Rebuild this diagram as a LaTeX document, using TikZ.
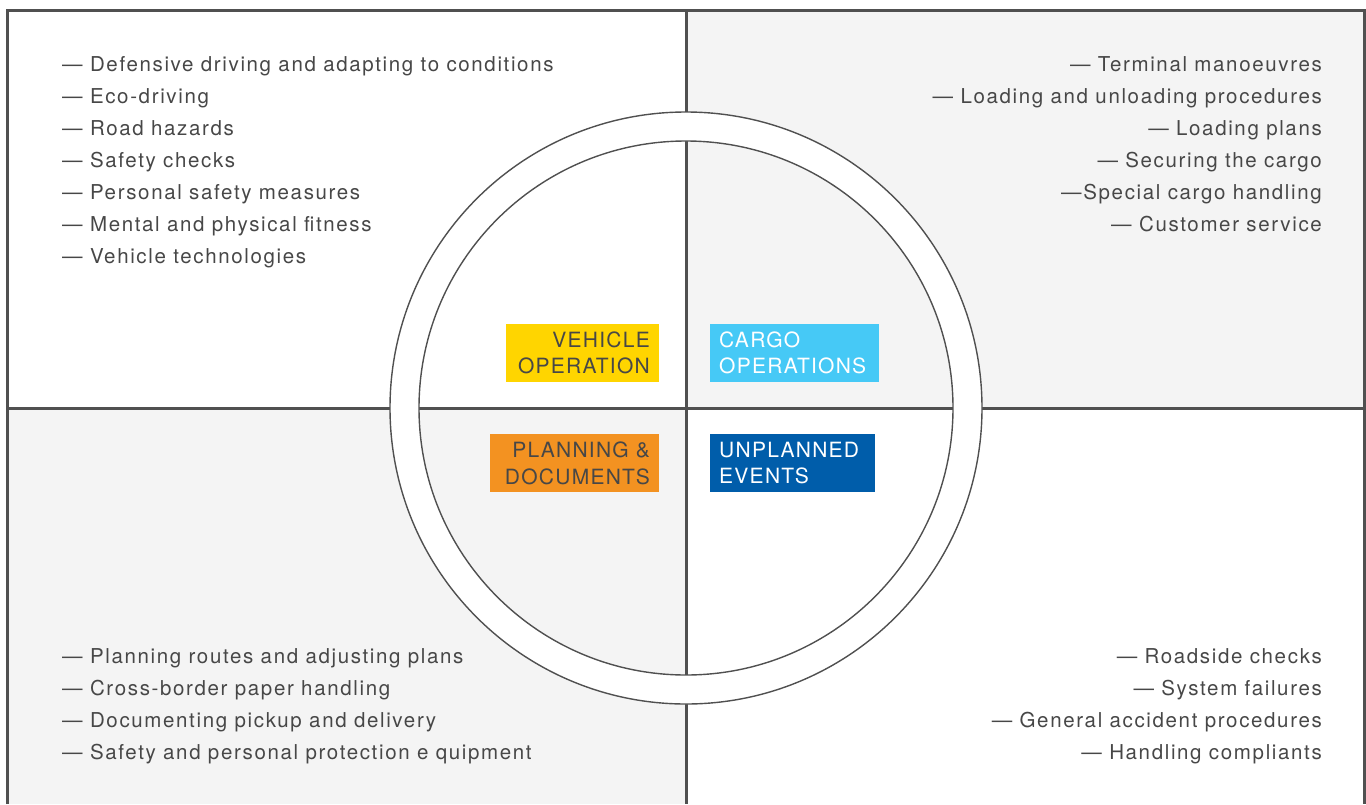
\documentclass[tikz,border=0pt]{standalone}
\usepackage{fontspec}
\setmainfont{TeX Gyre Heros}[LetterSpace=6]
\newfontfamily\listfont{TeX Gyre Heros}[LetterSpace=8]
\usetikzlibrary{positioning}
\definecolor{linegray}{HTML}{505050}
\definecolor{panegray}{HTML}{F4F4F4}
\definecolor{textgray}{HTML}{474747}
\definecolor{vehyellow}{HTML}{FFD500}
\definecolor{planorange}{HTML}{F39221}
\definecolor{cargoblue}{HTML}{46C9F6}
\definecolor{eventblue}{HTML}{005DAA}
\tikzset{
  item/.style={font=\listfont\fontsize{20.5}{32}\selectfont, text=textgray, inner sep=0pt},
  tag/.style={font=\fontsize{21}{26.5}\selectfont, inner xsep=9pt, inner ysep=0pt, minimum height=58pt},
  divider/.style={draw=linegray, line width=3pt},
  ringline/.style={draw=linegray, line width=1.4pt}
}
\begin{document}
\begin{tikzpicture}[x=1pt, y=-1pt]
  \useasboundingbox (0,0) rectangle (1366,804);
  \coordinate (c) at (686,408);
  % grey panes
  \fill[panegray] (686,10) rectangle (1364,408);
  \fill[panegray] (7,408) rectangle (686,804);
  % frame and cross
  \draw[divider] (7,804) -- (7,10) -- (1364,10) -- (1364,804);
  \draw[divider] (686,10) -- (686,804);
  \draw[divider] (7,408) -- (1364,408);
  % ring
  \fill[white, even odd rule] (c) circle (296pt) (c) circle (267pt);
  \draw[ringline] (c) circle (296pt);
  \draw[ringline] (c) circle (267pt);
  % labels
  \node[tag, fill=vehyellow, text=textgray, text width=135pt, align=right, anchor=south east, above left=26pt and 27pt of c] (veh) {VEHICLE\\OPERATION};
  \node[tag, fill=cargoblue, text=white, text width=151pt, align=left, anchor=south west, above right=26pt and 24pt of c] (cargo) {CARGO\\OPERATIONS};
  \node[tag, fill=planorange, text=textgray, text width=151pt, align=right, anchor=north east, below left=26pt and 27pt of c] (plan) {PLANNING \&\\DOCUMENTS};
  \node[tag, fill=eventblue, text=white, text width=147pt, align=left, anchor=north west, below right=26pt and 24pt of c] (event) {UNPLANNED\\EVENTS};
  % lists
  \foreach \t [count=\i] in {Defensive driving and adapting to conditions, Eco-driving, Road hazards, Safety checks, Personal safety measures, Mental and physical fitness, Vehicle technologies}
    \node[item, anchor=base west] (veh\i) at (62,{39+32*\i}) {— \t};
  \foreach \t [count=\i] in {— Terminal manoeuvres, — Loading and unloading procedures, — Loading plans, — Securing the cargo, —Special cargo handling, — Customer service}
    \node[item, anchor=base east] (cargo\i) at (1322,{39+32*\i}) {\t};
  \foreach \t [count=\i] in {Planning routes and adjusting plans, Cross-border paper handling, Documenting pickup and delivery, Safety and personal protection e quipment}
    \node[item, anchor=base west] (plan\i) at (62,{631+32*\i}) {— \t};
  \foreach \t [count=\i] in {Roadside checks, System failures, General accident procedures, Handling compliants}
    \node[item, anchor=base east] (event\i) at (1322,{631+32*\i}) {— \t};
\end{tikzpicture}
\end{document}
